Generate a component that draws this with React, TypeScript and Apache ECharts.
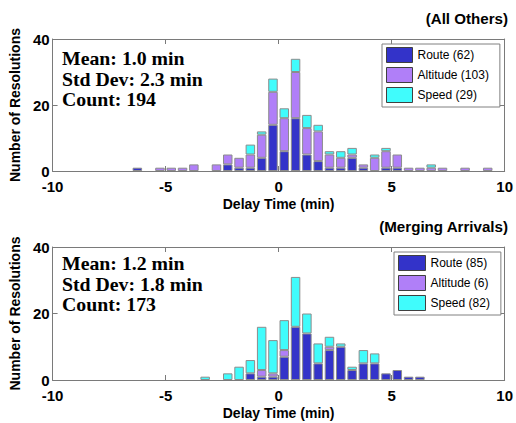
import React, { useEffect, useRef } from "react";
import * as echarts from "echarts";

// ---------- Data ----------
// Panel 1: All Others — bin centres (min) and counts per bin
const binsTop = [-6.25, -5.25, -4.75, -4.25, -3.75, -2.75, -2.25, -1.75, -1.25, -0.75, -0.25, 0.25, 0.75, 1.25, 1.75, 2.25, 2.75, 3.25, 3.75, 4.25, 4.75, 5.25, 5.75, 6.25, 6.75, 7.25, 8.25, 9.25];
const routeTop = [1, 0, 0, 0, 0, 0, 2, 1, 1, 4, 14, 6, 16, 5, 3, 1, 1, 4, 1, 0, 1, 1, 0, 0, 0, 0, 0, 0];
const altitudeTop = [0, 1, 1, 1, 2, 2, 3, 3, 4, 7, 10, 10, 14, 8, 9, 4, 3, 1, 1, 4, 5, 4, 1, 1, 1, 1, 1, 1];
const speedTop = [0, 0, 0, 0, 0, 0, 0, 0, 3, 1, 4, 3, 4, 4, 2, 1, 2, 2, 0, 1, 1, 0, 0, 0, 1, 0, 0, 0];
const namesTop = ["Route (62)", "Altitude (103)", "Speed (29)"];
const statsTop = ["Mean: 1.0 min", "Std Dev: 2.3 min", "Count: 194"];
const titleTop = "(All Others)";

// Panel 2: Merging Arrivals
const binsBottom = [-3.25, -2.25, -1.75, -1.25, -0.75, -0.25, 0.25, 0.75, 1.25, 1.75, 2.25, 2.75, 3.25, 3.75, 4.25, 4.75, 5.25, 5.75, 6.25];
const routeBottom = [0, 0, 0, 2, 1, 1, 7, 16, 14, 5, 9, 10, 3, 5, 5, 2, 3, 1, 1];
const altitudeBottom = [0, 0, 0, 0, 2, 1, 2, 0, 0, 0, 1, 0, 0, 0, 0, 0, 0, 0, 0];
const speedBottom = [1, 2, 4, 4, 13, 10, 9, 15, 6, 6, 3, 1, 1, 4, 3, 0, 0, 0, 0];
const namesBottom = ["Route (85)", "Altitude (6)", "Speed (82)"];
const statsBottom = ["Mean: 1.2 min", "Std Dev: 1.8 min", "Count: 173"];
const titleBottom = "(Merging Arrivals)";

// Axes
const xMin = -10;
const xMax = 10;
const xInterval = 5;
const yMin = 0;
const yMax = 40;
const yInterval = 20;
const xName = "Delay Time (min)";
const yName = "Number of Resolutions";

const colors = ["#3333c9", "#b07ff8", "#40fcfc"];

export default function App() {
  const ref = useRef<HTMLDivElement>(null);

  useEffect(() => {
    if (!ref.current) return;
    const chart = echarts.init(ref.current, null, { renderer: "svg" });

    const sans = "Liberation Sans";
    const serif = "Liberation Serif";
    const gray = "#7a7a7a";

    const mkX = (grid: number, bottom: boolean) => ({
      type: "value",
      gridIndex: grid,
      position: bottom ? "bottom" : "top",
      min: xMin,
      max: xMax,
      interval: xInterval,
      axisLine: { show: true, onZero: false, lineStyle: { color: gray, width: 1 } },
      axisTick: { show: true, inside: true, length: 5, lineStyle: { color: gray } },
      axisLabel: bottom
        ? { show: true, fontSize: 15, fontWeight: "bold", color: "#000", fontFamily: sans, margin: 8 }
        : { show: false },
      splitLine: { show: false },
      name: bottom ? xName : "",
      nameLocation: "middle",
      nameGap: 26,
      nameTextStyle: { fontSize: 14, fontWeight: "bold", color: "#000", fontFamily: sans },
    });
    const mkY = (grid: number, left: boolean) => ({
      type: "value",
      gridIndex: grid,
      position: left ? "left" : "right",
      min: yMin,
      max: yMax,
      interval: yInterval,
      axisLine: { show: true, onZero: false, lineStyle: { color: gray, width: 1 } },
      axisTick: { show: true, inside: true, length: 5, lineStyle: { color: gray } },
      axisLabel: left
        ? { show: true, fontSize: 15, fontWeight: "bold", color: "#000", fontFamily: sans, margin: 3, padding: [5, 0, 0, 0] }
        : { show: false },
      splitLine: { show: false },
      name: left ? yName : "",
      nameLocation: "middle",
      nameGap: 27,
      nameTextStyle: { fontSize: 14, fontWeight: "bold", color: "#000", fontFamily: sans },
    });

    // Data items are [count, binCentre] so that the count (dimension 0) is the stacked one.
    const mkSeries = (
      names: string[],
      bins: number[],
      values: number[][],
      axisIdx: number,
      stack: string
    ) =>
      names.map((n, k) => ({
        type: "bar",
        name: n,
        xAxisIndex: axisIdx,
        yAxisIndex: axisIdx,
        stack,
        barWidth: 9.5,
        encode: { x: 1, y: 0 },
        itemStyle: { color: colors[k], borderColor: "#8c8c8c", borderWidth: 1 },
        emphasis: { disabled: true },
        data: bins.map((b, i) => [values[k][i] === 0 ? null : values[k][i], b]),
      }));

    const mkLegend = (names: string[], left: number, top: number, w: number) => ({
      data: names,
      orient: "vertical",
      left,
      top,
      itemWidth: w,
      itemHeight: 15,
      itemGap: 4,
      itemTextGap: 4,
      padding: [3, 11, 4, 4],
      icon: "rect",
      selectedMode: false,
      backgroundColor: "#fff",
      borderColor: "#808080",
      borderWidth: 1,
      itemStyle: { borderColor: "#404040", borderWidth: 1 },
      textStyle: { fontSize: 12, color: "#000", fontFamily: sans },
    });

    const statTexts = (lines: string[], ys: number[]) =>
      lines.map((t, i) => ({
        type: "text",
        x: 62,
        y: ys[i],
        scaleX: 1.1,
        style: {
          text: t,
          fontSize: 18,
          fontWeight: "bold",
          fontFamily: serif,
          fill: "#000",
          verticalAlign: "middle",
          align: "left",
        },
      }));

    const titleText = (t: string, y: number) => ({
      type: "text",
      x: 508,
      y,
      scaleX: 1.08,
      style: {
        text: t,
        fontSize: 14,
        fontWeight: "bold",
        fontFamily: sans,
        fill: "#000",
        verticalAlign: "middle",
        align: "right",
      },
    });

    chart.setOption({
      animation: false,
      backgroundColor: "#fff",
      grid: [
        { left: 51, right: 9, top: 39, height: 132 },
        { left: 51, right: 9, top: 247, height: 133 },
      ],
      xAxis: [mkX(0, true), mkX(0, false), mkX(1, true), mkX(1, false)],
      yAxis: [mkY(0, true), mkY(0, false), mkY(1, true), mkY(1, false)],
      legend: [mkLegend(namesTop, 382, 44, 26), mkLegend(namesBottom, 394, 252, 27)],
      series: [
        ...mkSeries(namesTop, binsTop, [routeTop, altitudeTop, speedTop], 0, "top"),
        ...mkSeries(namesBottom, binsBottom, [routeBottom, altitudeBottom, speedBottom], 2, "bottom"),
      ],
      graphic: [
        ...statTexts(statsTop, [59, 80, 100]),
        ...statTexts(statsBottom, [264, 284.5, 305]),
        titleText(titleTop, 19),
        titleText(titleBottom, 227),
      ],
    });

    return () => chart.dispose();
  }, []);

  return (
    <div
      ref={ref}
      style={{ position: "fixed", left: 0, top: 0, width: 516, height: 423, background: "#fff" }}
    />
  );
}
